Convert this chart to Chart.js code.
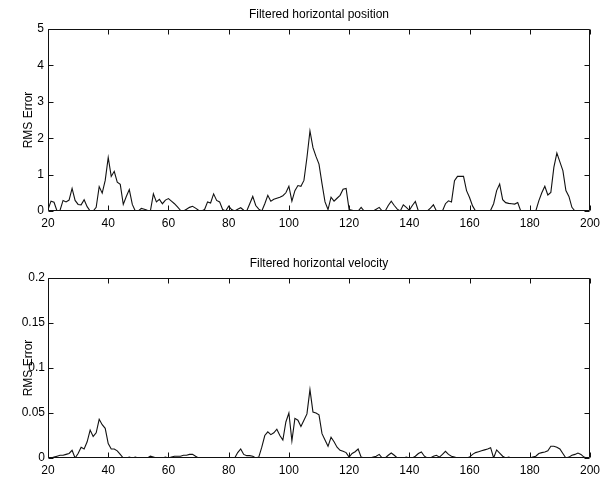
<!DOCTYPE html>
<html><head><meta charset="utf-8">
<script src="https://cdn.jsdelivr.net/npm/chart.js@4.4.1/dist/chart.umd.min.js"></script>
<style>
html,body{margin:0;padding:0;background:#fff;}
#wrap{position:relative;width:605px;height:478px;overflow:hidden;}
canvas{position:absolute;left:0;}
#c1{top:0;}
#c2{top:240px;}
</style></head><body>
<div id="wrap"><canvas id="c1" width="605" height="240"></canvas><canvas id="c2" width="605" height="238"></canvas></div>
<script>
// ---- data ----
const posX = [20,21,22,23,24,25,26,27,28,29,30,31,32,33,34,35,36,37,38,39,40,41,42,43,44,45,46,47,48,49,50,51,52,53,54,55,56,57,58,59,60,61,62,63,64,65,66,67,68,69,70,71,72,73,74,75,76,77,78,79,80,81,82,83,84,85,86,87,88,89,90,91,92,93,94,95,96,97,98,99,100,101,102,103,104,105,106,107,108,109,110,111,112,113,114,115,116,117,118,119,120,121,122,123,124,125,126,127,128,129,130,131,132,133,134,135,136,137,138,139,140,141,142,143,144,145,146,147,148,149,150,151,152,153,154,155,156,157,158,159,160,161,162,163,164,165,166,167,168,169,170,171,172,173,174,175,176,177,178,179,180,181,182,183,184,185,186,187,188,189,190,191,192,193,194,195];
const posY = [0.04,0.27,0.24,0,0.02,0.29,0.25,0.3,0.62,0.29,0.18,0.17,0.31,0.12,0,0,0.1,0.67,0.49,0.84,1.47,0.95,1.09,0.79,0.73,0.18,0.4,0.59,0.18,0,0,0.07,0.05,0.02,0,0.47,0.25,0.32,0.2,0.3,0.34,0.27,0.2,0.11,0.02,0,0.05,0.1,0.13,0.08,0.02,0,0.04,0.25,0.22,0.47,0.29,0.25,0.04,0,0.13,0.04,0,0.05,0.09,0.02,0,0.2,0.4,0.15,0.05,0,0.2,0.43,0.27,0.32,0.35,0.38,0.42,0.5,0.68,0.27,0.56,0.7,0.68,0.84,1.47,2.2,1.74,1.5,1.29,0.75,0.25,0.04,0.38,0.27,0.35,0.43,0.6,0.62,0.04,0.02,0,0,0.1,0,0,0,0,0.05,0.1,0,0,0.15,0.27,0.15,0.05,0,0.17,0.1,0.02,0.15,0.26,0,0,0,0,0.08,0.17,0,0,0,0.2,0.28,0.25,0.83,0.95,0.95,0.95,0.56,0.37,0.14,0,0,0,0,0,0.02,0.2,0.56,0.74,0.31,0.23,0.21,0.2,0.19,0.23,0,0,0,0,0,0,0.28,0.5,0.68,0.44,0.51,1.2,1.59,1.35,1.11,0.56,0.4,0.1,0];

const velX = [20,21,22,23,24,25,26,27,28,29,30,31,32,33,34,35,36,37,38,39,40,41,42,43,44,45,46,47,48,49,50,51,52,53,54,55,56,57,58,59,60,61,62,63,64,65,66,67,68,69,70,71,72,73,74,75,76,77,78,79,80,81,82,83,84,85,86,87,88,89,90,91,92,93,94,95,96,97,98,99,100,101,102,103,104,105,106,107,108,109,110,111,112,113,114,115,116,117,118,119,120,121,122,123,124,125,126,127,128,129,130,131,132,133,134,135,136,137,138,139,140,141,142,143,144,145,146,147,148,149,150,151,152,153,154,155,156,157,158,159,160,161,162,163,164,165,166,167,168,169,170,171,172,173,174,175,176,177,178,179,180,181,182,183,184,185,186,187,188,189,190,191,192,193,194,195,196,197,198,199];
const velY = [0,0,0.001,0.002,0.003,0.003,0.004,0.005,0.0085,0,0.005,0.012,0.01,0.018,0.031,0.024,0.028,0.043,0.037,0.033,0.016,0.01,0.01,0.008,0.004,0,0,0.001,0,0.001,0,0,0,0,0.002,0.001,0,0,0,0.001,0,0.001,0.002,0.002,0.002,0.003,0.003,0.004,0.004,0.002,0,0,0,0,0,0,0,0,0,0,0,0,0,0.006,0.01,0.004,0.0026,0.0026,0.002,0,0.001,0.012,0.025,0.029,0.026,0.028,0.032,0.025,0.02,0.04,0.05,0.019,0.044,0.042,0.035,0.042,0.049,0.076,0.051,0.05,0.048,0.027,0.02,0.013,0.023,0.018,0.012,0.0085,0.0074,0.006,0.001,0.005,0.007,0.01,0.001,0,0,0,0.001,0.002,0.004,0,0,0.003,0.0055,0.003,0,0,0,0.001,0,0,0.002,0.005,0.0067,0.002,0,0,0.002,0.003,0.001,0.004,0.0074,0.004,0.002,0.001,0,0,0,0,0.001,0.004,0.006,0.007,0.008,0.009,0.01,0.0115,0,0.009,0.0055,0.002,0,0.001,0,0,0,0,0,0,0,0.001,0.002,0.005,0.006,0.0067,0.008,0.013,0.013,0.012,0.01,0.005,0,0.001,0.003,0.004,0.0055,0.004,0.001,0];

const xTickValues = [20,40,60,80,100,120,140,160,180,200];
const posTickValues = [0,1,2,3,4,5];
const posTickLabels = ['0','1','2','3','4','5'];
const velTickValues = [0,0.05,0.1,0.15,0.2];
const velTickLabels = ['0','0.05','0.1','0.15','0.2'];

const titles = ['Filtered horizontal position','Filtered horizontal velocity'];
const yAxisTitle = 'RMS Error';

// ---- drawing ----
const FONT = {family: '"Liberation Sans", Arial, Helvetica, sans-serif', size: 12};

const framePlugin = {
  id: 'frame',
  afterDraw(chart, args, opts) {
    const ctx = chart.ctx, a = chart.chartArea;
    const xs = chart.scales.x, ys = chart.scales.y;
    const L = Math.round(a.left) + 0.5, R = Math.round(a.right) - 0.5;
    const T = Math.round(a.top) + 0.5, B = Math.round(a.bottom) - 0.5;
    ctx.save();
    ctx.strokeStyle = '#111';
    ctx.lineWidth = 1;
    ctx.beginPath();
    ctx.rect(L, T, R - L, B - T);
    const tl = 5;
    xTickValues.forEach(v => {
      const p = Math.round(xs.getPixelForValue(v)) + 0.5;
      ctx.moveTo(p, B); ctx.lineTo(p, B - tl);
      ctx.moveTo(p, T); ctx.lineTo(p, T + tl);
    });
    opts.yTicks.forEach(v => {
      const p = Math.round(ys.getPixelForValue(v)) + 0.5;
      ctx.moveTo(L, p); ctx.lineTo(L + tl, p);
      ctx.moveTo(R, p); ctx.lineTo(R - tl, p);
    });
    ctx.stroke();
    ctx.fillStyle = '#000';
    ctx.font = '12px ' + FONT.family;
    ctx.textAlign = 'center';
    ctx.textBaseline = 'middle';
    ctx.fillText(opts.title, (a.left + a.right) / 2, a.top - 14.5);
    ctx.restore();
  }
};

function makeChart(id, xs, ys, yMin, yMax, tickVals, tickLabels, title, padTop, xAxisH, yPad) {
  const data = xs.map((x, i) => ({x: x, y: ys[i]}));
  return new Chart(document.getElementById(id), {
    type: 'line',
    data: {datasets: [{data: data, borderColor: '#111', borderWidth: 1.1, pointRadius: 0, tension: 0, fill: false}]},
    options: {
      responsive: false, animation: false,
      layout: {padding: {top: padTop, right: 11, left: 0, bottom: 0}},
      plugins: {legend: {display: false}, title: {display: false}, tooltip: {enabled: false},
        frame: {title: title, yTicks: tickVals}},
      scales: {
        x: {type: 'linear', min: 20, max: 200,
          grid: {display: false, drawTicks: false}, border: {display: false},
          ticks: {font: FONT, color: '#000', padding: 5, maxRotation: 0, autoSkip: false},
          afterBuildTicks: s => { s.ticks = xTickValues.map(v => ({value: v})); },
          afterFit: s => { s.height = xAxisH; }
        },
        y: {type: 'linear', min: yMin, max: yMax,
          grid: {display: false, drawTicks: false}, border: {display: false},
          ticks: {font: FONT, color: '#000', padding: yPad, autoSkip: false,
            callback: (v, i) => tickLabels[i]},
          afterBuildTicks: s => { s.ticks = tickVals.map(v => ({value: v})); },
          title: {display: true, text: yAxisTitle, font: FONT, color: '#000', padding: {top: 21, bottom: 0}},
          afterFit: s => { s.width = 48; }
        }
      }
    },
    plugins: [framePlugin]
  });
}

makeChart('c1', posX, posY, 0, 5, posTickValues, posTickLabels, titles[0], 29, 29, 4);
makeChart('c2', velX, velY, 0, 0.2, velTickValues, velTickLabels, titles[1], 38, 20, 3);
</script>
</body></html>
